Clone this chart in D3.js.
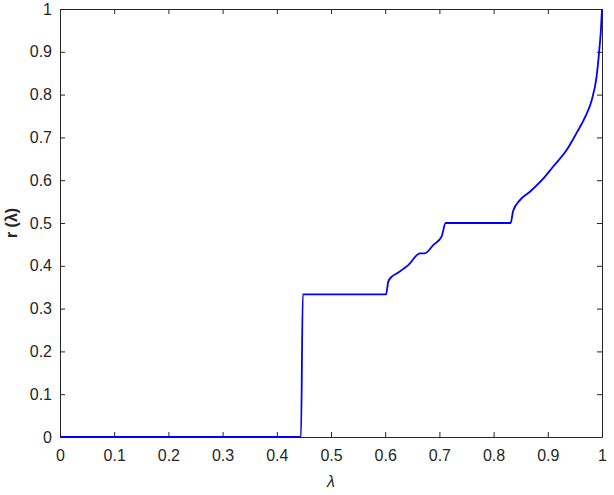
<!DOCTYPE html>
<html>
<head>
<meta charset="utf-8">
<script src="https://cdn.jsdelivr.net/npm/d3@7"></script>
<style>
  body { margin: 0; background: #fff; }
  .tick text { font-family: Arial, "Liberation Sans", sans-serif; font-size: 16px; fill: #262626; }
  .domain, .tick line { stroke: #262626; }
</style>
</head>
<body>
<div id="chart"></div>
<script>
var svgWidth = 614;
var svgHeight = 495;

var margin = { top: 9, right: 12, bottom: 58, left: 60 };

var width = svgWidth - margin.left - margin.right;
var height = svgHeight - margin.top - margin.bottom;

// curve
var lambdaVals = [0, 0.4446, 0.448, 0.6015, 0.6057, 0.612, 0.621, 0.643, 0.664, 0.673, 0.689, 0.704,
    0.7115, 0.8315, 0.836, 0.849, 0.867, 0.889, 0.910, 0.935, 0.953, 0.969, 0.981, 0.990, 0.995, 0.998, 1];
var rVals = [0, 0, 0.3333, 0.3333, 0.363, 0.3745, 0.382, 0.402, 0.429, 0.429, 0.449, 0.468,
    0.5, 0.5, 0.528, 0.554, 0.573, 0.600, 0.632, 0.671, 0.710, 0.748, 0.787, 0.842, 0.904, 0.951, 1];

var xTicks = [0, 0.1, 0.2, 0.3, 0.4, 0.5, 0.6, 0.7, 0.8, 0.9, 1];
var yTicks = [0, 0.1, 0.2, 0.3, 0.4, 0.5, 0.6, 0.7, 0.8, 0.9, 1];

var svg = d3.select("#chart")
    .append("svg")
    .attr("width", svgWidth)
    .attr("height", svgHeight);

var chartGroup = svg.append("g")
    .attr("transform", `translate(${margin.left}, ${margin.top})`);

var xScale = d3.scaleLinear().domain([0, 1]).range([0, width]);
var yScale = d3.scaleLinear().domain([0, 1]).range([height, 0]);

var fmt = d3.format("~g");

// bottom + left axes with labels, ticks pointing inward
chartGroup.append("g")
    .attr("transform", `translate(0, ${height})`)
    .call(d3.axisBottom(xScale).tickValues(xTicks).tickFormat(fmt).tickSizeInner(-5).tickSizeOuter(0).tickPadding(13));

chartGroup.append("g")
    .call(d3.axisLeft(yScale).tickValues(yTicks).tickFormat(fmt).tickSizeInner(-5).tickSizeOuter(0).tickPadding(8));

// top + right axes, no labels
chartGroup.append("g")
    .call(d3.axisTop(xScale).tickValues(xTicks).tickFormat("").tickSizeInner(-5).tickSizeOuter(0));

chartGroup.append("g")
    .attr("transform", `translate(${width}, 0)`)
    .call(d3.axisRight(yScale).tickValues(yTicks).tickFormat("").tickSizeInner(-5).tickSizeOuter(0));

// the line
var pts = lambdaVals.map((x, i) => [x, rVals[i]]);
var line = d3.line()
    .curve(d3.curveMonotoneX)
    .x(d => xScale(d[0]))
    .y(d => yScale(d[1]));

chartGroup.append("path")
    .datum(pts)
    .attr("d", line)
    .attr("fill", "none")
    .attr("stroke", "#0000ff")
    .attr("stroke-width", 1.8)
    .attr("stroke-linejoin", "round");

// axis titles
chartGroup.append("text")
    .attr("x", width / 2)
    .attr("y", height + 50)
    .attr("text-anchor", "middle")
    .style("font-family", "Arial, 'Liberation Sans', sans-serif")
    .style("font-size", "16px")
    .style("font-style", "italic")
    .style("fill", "#262626")
    .text("λ");

chartGroup.append("text")
    .attr("transform", `translate(-43, ${height / 2}) rotate(-90)`)
    .attr("text-anchor", "middle")
    .style("font-family", "Arial, 'Liberation Sans', sans-serif")
    .style("font-size", "16px")
    .style("font-weight", "bold")
    .style("fill", "#262626")
    .text("r (λ)");
</script>
</body>
</html>
